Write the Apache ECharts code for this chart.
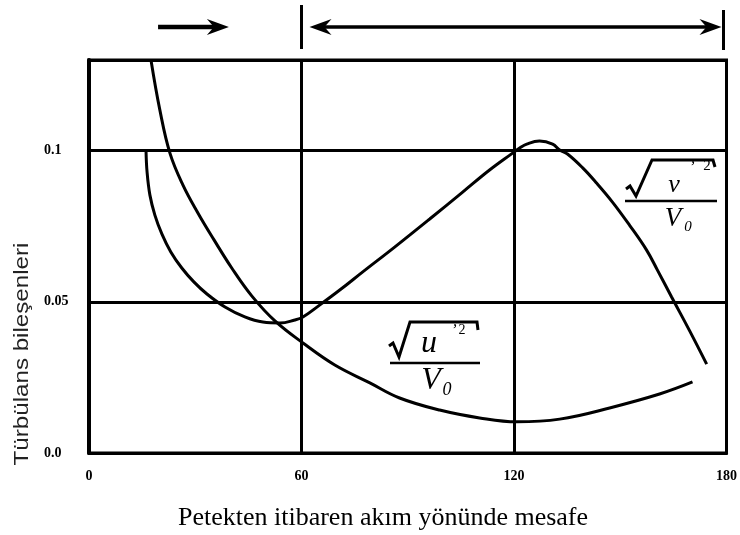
<!DOCTYPE html>
<html>
<head>
<meta charset="utf-8">
<script src="https://cdn.jsdelivr.net/npm/echarts@6/dist/echarts.min.js"></script>
<style>
  html, body { margin: 0; padding: 0; background: #fff; }
  #chart { width: 740px; height: 535px; }
</style>
</head>
<body>
<div id="chart"></div>
<script>
// Distance downstream of the honeycomb (x) and turbulence components (y)
const xTickValues = [0, 60, 120, 180];
const xTickLabels = ['0', '60', '120', '180'];
const yTickValues = [0, 0.05, 0.1];
const yTickLabels = ['0.0', '0.05', '0.1'];

// sqrt(v'^2)/V0 component
const vX = [16.1, 16.4, 17.2, 18.6, 20.6, 23.1, 26.2, 29.6, 33.3, 38.4, 44.0, 49.1, 53.9, 58.1, 60.4, 65.2, 70.8, 77.3, 86.3, 96.2, 105.5, 113.1, 119.6, 121.6, 123.6, 127.2, 130.9, 132.9, 135.1, 139.4, 143.3, 147.8, 152.6, 157.4, 160.5, 164.5, 169.6, 174.4];
const vY = [0.100, 0.0929, 0.0853, 0.0787, 0.0724, 0.0665, 0.0612, 0.0566, 0.0526, 0.0483, 0.0450, 0.0433, 0.0430, 0.0440, 0.0450, 0.0490, 0.0539, 0.0599, 0.0681, 0.0774, 0.0863, 0.0936, 0.0992, 0.1009, 0.1022, 0.1032, 0.1022, 0.1002, 0.0989, 0.0943, 0.0893, 0.0830, 0.0754, 0.0672, 0.0605, 0.0516, 0.0404, 0.0294];

// sqrt(u'^2)/V0 component
const uX = [17.5, 20.0, 22.85, 26.5, 30.75, 35.3, 40.3, 46.0, 52.5, 60.4, 69.4, 79.3, 87.7, 99.0, 110.3, 120.8, 132.9, 147.0, 161.1, 170.4];
const uY = [0.130, 0.1135, 0.0992, 0.0887, 0.0794, 0.0705, 0.0612, 0.0519, 0.0437, 0.0364, 0.0291, 0.0232, 0.0182, 0.0142, 0.0116, 0.0103, 0.0112, 0.0149, 0.0195, 0.0235];

// Bracket arrows above the plot (x positions in axis units)
const arrowShort = [19.5, 39.5];
const arrowLong = [60, 180];

const xTitle = 'Petekten itibaren akım yönünde mesafe';
const yTitle = 'Türbülans bileşenleri';

const zip = (xs, ys) => xs.map((x, i) => [x, ys[i]]);

const chart = echarts.init(document.getElementById('chart'), null, { renderer: 'canvas' });

const lineStyle = { color: '#000', width: 3 };
const tickFont = { fontFamily: 'Liberation Serif', fontWeight: 'bold', fontSize: 14, color: '#000' };

chart.setOption({
  animation: false,
  backgroundColor: '#fff',
  grid: { left: 89, right: 13, top: 60, bottom: 82, show: true, borderColor: '#000', borderWidth: 3 },
  xAxis: {
    type: 'value', min: 0, max: 180, interval: 60,
    axisLine: { show: true, onZero: false, lineStyle: { color: '#000', width: 3 } },
    axisTick: { show: false },
    splitLine: { show: true, lineStyle: { color: '#000', width: 3 } },
    axisLabel: Object.assign({ margin: 16, formatter: v => {
      const i = xTickValues.indexOf(v); return i >= 0 ? xTickLabels[i] : '';
    } }, tickFont)
  },
  yAxis: {
    type: 'value', min: 0, max: 0.13, interval: 0.05,
    axisLine: { show: true, lineStyle: { color: '#000', width: 4 } },
    axisTick: { show: false },
    splitLine: { show: true, lineStyle: { color: '#000', width: 3 } },
    axisLabel: Object.assign({ margin: 45, align: 'left', formatter: v => {
      const i = yTickValues.findIndex(t => Math.abs(t - v) < 1e-9); return i >= 0 ? yTickLabels[i] : '';
    } }, tickFont)
  },
  series: [
    { type: 'line', data: zip(vX, vY), smooth: 0.4, showSymbol: false, lineStyle: lineStyle },
    { type: 'line', data: zip(uX, uY), smooth: 0.4, showSymbol: false, lineStyle: lineStyle }
  ]
});

// Annotations: titles, top brackets and the two fraction labels
const px = x => chart.convertToPixel({ gridIndex: 0 }, [x, 0])[0];
const arrowY = 27;

function head(tipX, dir) {
  return { type: 'polygon', shape: { points: [
    [tipX, arrowY], [tipX - dir * 22, arrowY - 8], [tipX - dir * 15, arrowY], [tipX - dir * 22, arrowY + 8]
  ] }, style: { fill: '#000' } };
}
function line(x1, y1, x2, y2, w) {
  return { type: 'line', shape: { x1, y1, x2, y2 }, style: { stroke: '#000', lineWidth: w || 3 } };
}
function txt(s, x, y, font, extra) {
  return Object.assign({ type: 'text', x, y, style: { text: s, font, fill: '#000', textAlign: 'center', textVerticalAlign: 'middle' } }, extra || {});
}

const a1 = px(arrowShort[0]), a2 = px(arrowShort[1]);
const b1 = px(arrowLong[0]), b2 = px(arrowLong[1]) - 3;

const elements = [
  line(a1, arrowY, a2 - 10, arrowY, 4.5), head(a2, 1),
  line(b1, 5, b1, 49, 3), line(b2, 10, b2, 50, 3),
  line(b1 + 15, arrowY, b2 - 15, arrowY, 3.5), head(b1 + 8, -1), head(b2 - 2, 1),

  // sqrt(v'^2)/V0
  { type: 'polyline', shape: { points: [[626, 189], [630, 186], [636, 196], [652, 160], [713, 160], [715, 167]] }, style: { stroke: '#000', lineWidth: 3, fill: null } },
  txt('v', 674, 185, 'italic 26px "Liberation Serif"'),
  txt('\u02BC', 692, 168, 'italic 16px "Liberation Serif"'),
  txt('2', 707, 166, '15px "Liberation Serif"'),
  line(625, 201, 717, 201, 2.5),
  txt('V', 673, 219, 'italic 27px "Liberation Serif"'),
  txt('0', 688, 227, 'italic 15px "Liberation Serif"'),

  // sqrt(u'^2)/V0
  { type: 'polyline', shape: { points: [[389, 346], [393, 343], [399, 357], [410, 322], [477, 322], [478, 330]] }, style: { stroke: '#000', lineWidth: 3, fill: null } },
  txt('u', 429, 344, 'italic 32px "Liberation Serif"'),
  txt('\u02BC', 454, 331, 'italic 16px "Liberation Serif"'),
  txt('2', 462, 330, '14px "Liberation Serif"'),
  line(390, 363, 480, 363, 2.5),
  txt('V', 431, 381, 'italic 32px "Liberation Serif"'),
  txt('0', 447, 390, 'italic 18px "Liberation Serif"'),

  // axis titles
  txt(xTitle, 383, 518, '26px "Liberation Serif"'),
  { type: 'text', x: 22, y: 354, rotation: Math.PI / 2, scaleX: 1.15,
    style: { text: yTitle, font: '21px "Liberation Sans"', fill: '#222', textAlign: 'center', textVerticalAlign: 'middle' } }
];

chart.setOption({ graphic: { elements: elements } });
</script>
</body>
</html>
